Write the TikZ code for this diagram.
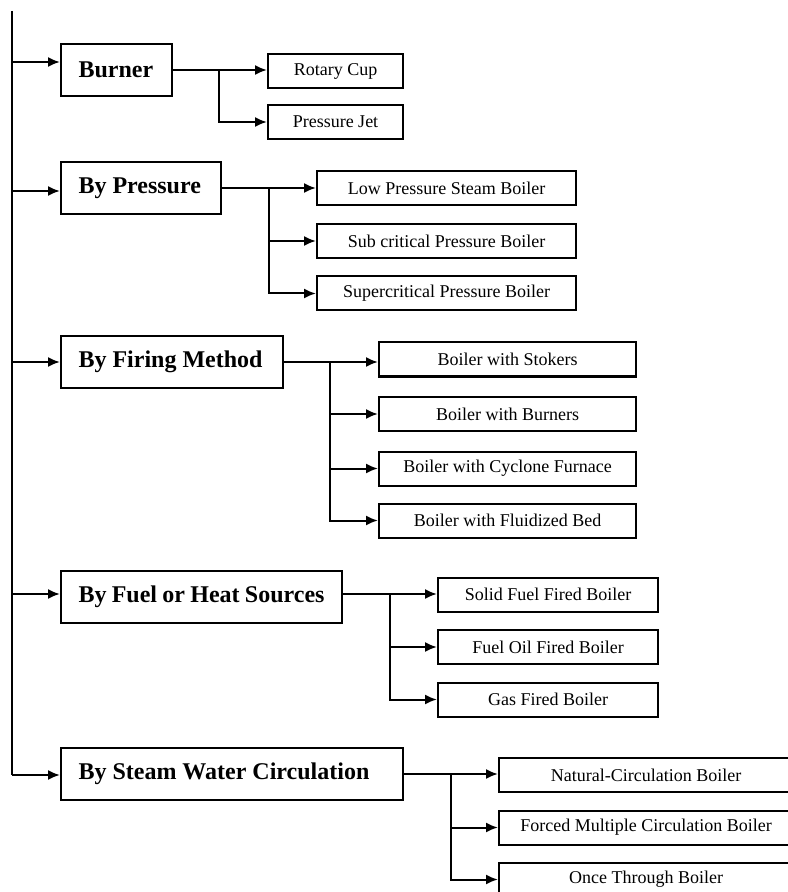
\documentclass[tikz,border=0pt]{standalone}
\usepackage{fontspec}
\setmainfont{Liberation Serif}
\usetikzlibrary{arrows.meta}

\begin{document}
\begin{tikzpicture}[x=0.5pt,y=-0.5pt,>={Latex[length=6pt,width=5pt]},line width=1pt,
        head/.style={draw,anchor=west,font=\fontsize{12}{14}\selectfont\bfseries,
                     inner xsep=8.75pt,minimum height=26pt,
                     execute at begin node={\hbox to #1\bgroup},execute at end node={\hfil\egroup}},
        leaf/.style={draw,font=\fontsize{9}{11}\selectfont,minimum height=17pt,minimum width=#1}]
        \useasboundingbox (0,0) rectangle (787,892);

        % the classes
        \node[head=38pt]    (burner)   at (60,70)  {Burner};
        \node[head=62.5pt]  (pressure) at (60,188) {By Pressure};
        \node[head=93.5pt]  (firing)   at (60,362) {By Firing Method};
        \node[head=123pt]   (fuel)     at (60,597) {By Fuel or Heat Sources};
        \node[head=153.5pt] (steam)    at (60,774) {By Steam Water Circulation};

        % the trunk on the left
        \coordinate (top) at (12,11);
        \coordinate (t1) at (12,62);
        \coordinate (t2) at (12,191);
        \coordinate (t3) at (12,362);
        \coordinate (t4) at (12,594);
        \coordinate (t5) at (12,775);
        \draw (top) -- (t5);
        \draw[->] (t1) -- (t1 -| burner.west);
        \draw[->] (t2) -- (t2 -| pressure.west);
        \draw[->] (t3) -- (t3 -| firing.west);
        \draw[->] (t4) -- (t4 -| fuel.west);
        \draw[->] (t5) -- (t5 -| steam.west);

        % burner
        \node[leaf=67.5pt] (rotary) at (335.5,71)  {Rotary Cup};
        \node[leaf=67.5pt] (jet)    at (335.5,122) {Pressure Jet};
        \coordinate (b1) at (219,0);
        \draw[->] (burner.east) -- (burner.east -| rotary.west);
        \draw[->] (b1 |- burner.east) |- (jet.west);

        % pressure
        \node[leaf=129.5pt] (lowp)      at (446.5,188)   {Low Pressure Steam Boiler};
        \node[leaf=129.5pt] (subcrit)   at (446.5,241)   {Sub critical Pressure Boiler};
        \node[leaf=129.5pt] (supercrit) at (446.5,293.5) {Supercritical Pressure Boiler};
        \coordinate (b2) at (269,0);
        \draw[->] (pressure.east) -- (pressure.east -| lowp.west);
        \draw[->] (b2 |- pressure.east) |- (subcrit.west);
        \draw[->] (b2 |- pressure.east) |- (supercrit.west);

        % firing method
        \node[leaf=128.5pt] (stokers) at (507.5,359.5) {Boiler with Stokers};
        \node[leaf=128.5pt] (burners) at (507.5,414)   {Boiler with Burners};
        \node[leaf=128.5pt] (cyclone) at (507.5,468.5) {Boiler with Cyclone Furnace};
        \node[leaf=128.5pt] (fluid)   at (507.5,520.5) {Boiler with Fluidized Bed};
        \coordinate (b3) at (330,0);
        \draw[->] (firing.east) -- (firing.east -| stokers.west);
        \draw[->] (b3 |- firing.east) |- (burners.west);
        \draw[->] (b3 |- firing.east) |- (cyclone.west);
        \draw[->] (b3 |- firing.east) |- (fluid.west);

        % fuel
        \node[leaf=110pt] (solid) at (548,594.5) {Solid Fuel Fired Boiler};
        \node[leaf=110pt] (oil)   at (548,647)   {Fuel Oil Fired Boiler};
        \node[leaf=110pt] (gas)   at (548,699.5) {Gas Fired Boiler};
        \coordinate (b4) at (390,0);
        \draw[->] (fuel.east |- t4) -- (t4 -| solid.west);
        \draw[->] (b4 |- t4) |- (oil.west);
        \draw[->] (b4 |- t4) |- (gas.west);

        % steam water circulation, cut off by the page
        \node[leaf=147pt] (natural) at (646,775)   {Natural-Circulation Boiler};
        \node[leaf=147pt] (forced)  at (646,827.5) {Forced Multiple Circulation Boiler};
        \node[leaf=147pt] (once)    at (646,879.5) {Once Through Boiler};
        \coordinate (b5) at (451,0);
        \draw[->] (steam.east) -- (steam.east -| natural.west);
        \draw[->] (b5 |- steam.east) |- (forced.west);
        \draw[->] (b5 |- steam.east) |- (once.west);
    \end{tikzpicture}
\end{document}
